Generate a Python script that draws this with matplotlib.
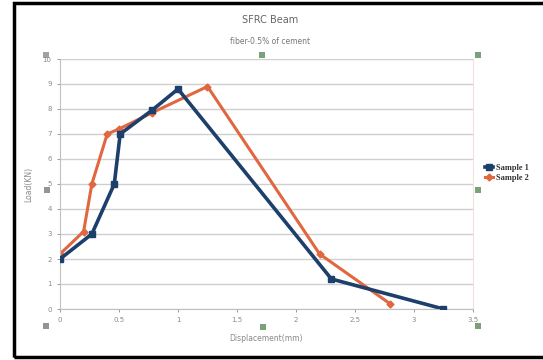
import matplotlib.pyplot as plt
from matplotlib.patches import Rectangle

# load-displacement readings
disp_1 = [0.0, 0.27, 0.46, 0.51, 0.78, 1.0, 2.3, 3.25]
load_1 = [2.0, 3.0, 5.0, 7.0, 7.95, 8.8, 1.2, 0.0]

disp_2 = [0.0, 0.2, 0.27, 0.4, 0.5, 0.78, 1.25, 2.2, 2.8]
load_2 = [2.2, 3.1, 5.0, 7.0, 7.2, 7.85, 8.9, 2.2, 0.2]

x_ticks = [0, 0.5, 1, 1.5, 2, 2.5, 3, 3.5]
x_labels = ["0", "0.5", "1", "1.5", "2", "2.5", "3", "3.5"]
y_ticks = list(range(0, 11))

fig = plt.figure(figsize=(5.43, 3.6), dpi=100)
fig.patch.set_facecolor("white")

# outer chart frame
fig.patches.append(Rectangle((14 / 543, 3 / 360), 540 / 543, 354 / 360,
                             transform=fig.transFigure, fill=False,
                             edgecolor="black", linewidth=2.5))

ax = fig.add_axes([60 / 543, 1 - 309 / 360, 413 / 543, 250 / 360])
ax.plot(disp_1, load_1, color="#1d3f6b", linewidth=2.6, marker="s",
        markersize=5, label="Sample 1", zorder=3)
ax.plot(disp_2, load_2, color="#e0673f", linewidth=2.2, marker="D",
        markersize=3.5, label="Sample 2", zorder=2)

ax.set_xlim(0, 3.5)
ax.set_ylim(0, 10)
ax.set_xticks(x_ticks)
ax.set_xticklabels(x_labels)
ax.set_yticks(y_ticks)
ax.tick_params(labelsize=5, colors="#8a8a8a", length=2, width=0.6, pad=4)
ax.grid(axis="y", color="#cfcfcf", linewidth=1.0)
ax.set_axisbelow(True)
ax.spines["top"].set_visible(False)
ax.spines["right"].set_color("#f0e0e0")
ax.spines["left"].set_color("#c0c0c0")
ax.spines["bottom"].set_color("#c0c0c0")

ax.set_xlabel("Displacement(mm)", fontsize=5.5, color="#888888", labelpad=8)
ax.set_ylabel("Load(KN)", fontsize=5.5, color="#888888", labelpad=7)

fig.text(0.497, 1 - 20 / 360, "SFRC Beam", ha="center", va="center",
         fontsize=7, color="#666666")
fig.text(0.497, 1 - 42 / 360, "fiber-0.5% of cement", ha="center",
         va="center", fontsize=5.5, color="#777777")

leg = ax.legend(loc="center left", bbox_to_anchor=(1.02, 0.545), frameon=False,
                prop={"family": "Liberation Serif", "size": 6, "weight": "bold"},
                handlelength=1.0, handletextpad=0.4, labelspacing=0.2,
                borderaxespad=0)
for t in leg.get_texts():
    t.set_color("#333333")

# selection handles around the plot area
handles = [(46, 55, "#8a8a8a"), (262, 55, "#5a8a5a"), (478, 55, "#5a8a5a"),
           (47, 190, "#7a7a7a"), (478, 190, "#5a8a5a"),
           (46, 326, "#7a7a7a"), (263, 327, "#5a8a5a"), (478, 326, "#5a8a5a")]
for hx, hy, hc in handles:
    fig.patches.append(Rectangle(((hx - 3) / 543, 1 - (hy + 3) / 360),
                                 6 / 543, 6 / 360, transform=fig.transFigure,
                                 facecolor=hc, edgecolor="none", alpha=0.8))

fig.savefig("out.png", dpi=100)
